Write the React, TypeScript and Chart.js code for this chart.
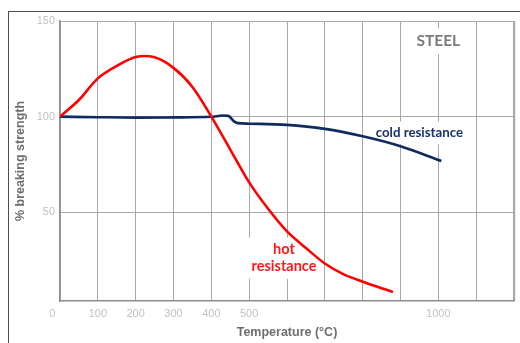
import React, { useEffect, useRef } from "react";
import { Chart, registerables } from "chart.js";

Chart.register(...registerables);

// Temperature (°C) and % of room-temperature breaking strength
const hotTemps = [0, 50, 100, 150, 200, 250, 300, 350, 400, 450, 500, 550, 600, 650, 700, 750, 800, 850, 880];
const hotStrength = [100, 108.7, 120, 126.5, 131.2, 131, 125.5, 115.5, 100, 82.8, 65.6, 51.8, 40, 31.3, 23.2, 17.5, 13.7, 10.3, 8.3];

const coldTemps = [0, 100, 200, 300, 400, 430, 445, 460, 470, 500, 600, 700, 800, 900, 1008];
const coldStrength = [100, 99.7, 99.5, 99.6, 99.9, 100.6, 100.4, 97.5, 96.6, 96.3, 95.7, 93.6, 89.7, 84.5, 76.8];

const xTickValues = [0, 100, 200, 300, 400, 500, 600, 700, 800, 900, 1000, 1100, 1200];
const xTickLabels = ["0", "100", "200", "300", "400", "500", "", "", "", "", "1000", "", ""];
const yTickValues = [50, 100, 150];

const TICK_FONT = { family: "'Liberation Sans', Arial, sans-serif", size: 11 };
const TITLE_FONT = { family: "'Liberation Sans', Arial, sans-serif", size: 12.5, weight: "bold" as const };
const GRID = "#a8a8a8";
const AXIS = "#8c8c8c";

// Text callouts placed in data space, painted on a white backing so gridlines break behind them.
const calloutPlugin = {
  id: "callouts",
  beforeDatasetsDraw(chart: any) {
    const { ctx, scales } = chart;
    const xs = scales.x;
    const ys = scales.y;
    const items = [
      { lines: ["STEEL"], x: 1000, y: 139.5, color: "#7a7a7a", size: 15.5, gap: 0 },
      { lines: ["cold resistance"], x: 950, y: 91.5, color: "#1b3170", size: 13.3, gap: 0 },
      { lines: ["hot", "resistance"], x: 592, y: 26, color: "#ff1a1a", size: 14.5, gap: 17 },
    ];
    ctx.save();
    for (const it of items) {
      const cx = xs.getPixelForValue(it.x);
      const cy = ys.getPixelForValue(it.y);
      ctx.font = `bold ${it.size}px Lato, 'Open Sans', sans-serif`;
      ctx.textAlign = "center";
      ctx.textBaseline = "middle";
      const widths = it.lines.map((l) => ctx.measureText(l).width);
      const w = Math.max(...widths);
      const n = it.lines.length;
      const blockH = (n - 1) * it.gap + it.size * 1.25;
      ctx.fillStyle = "#ffffff";
      ctx.fillRect(cx - w / 2 - 3, cy - blockH / 2 - 3, w + 6, blockH + 6);
      ctx.fillStyle = it.color;
      it.lines.forEach((l, i) => {
        const ly = cy + (i - (n - 1) / 2) * it.gap;
        ctx.fillText(l, cx, ly);
      });
    }
    ctx.restore();
  },
};

export default function App() {
  const canvasRef = useRef<HTMLCanvasElement | null>(null);

  useEffect(() => {
    if (!canvasRef.current) return;
    const chart = new Chart(canvasRef.current, {
      type: "line",
      data: {
        datasets: [
          {
            label: "hot resistance",
            data: hotTemps.map((t, i) => ({ x: t, y: hotStrength[i] })),
            borderColor: "#ff0000",
            borderWidth: 2.6,
            pointRadius: 0,
            tension: 0.3,
            fill: false,
          },
          {
            label: "cold resistance",
            data: coldTemps.map((t, i) => ({ x: t, y: coldStrength[i] })),
            borderColor: "#0f2a5e",
            borderWidth: 2.6,
            pointRadius: 0,
            cubicInterpolationMode: "monotone",
            fill: false,
          },
        ],
      },
      options: {
        animation: false,
        responsive: true,
        maintainAspectRatio: false,
        layout: { padding: { left: 0, top: 21, right: 4, bottom: 0 } },
        plugins: { legend: { display: false }, tooltip: { enabled: false } },
        scales: {
          x: {
            type: "linear",
            min: 0,
            max: 1200,
            afterBuildTicks: (s: any) => {
              s.ticks = xTickValues.map((v) => ({ value: v }));
            },
            afterFit: (s: any) => {
              s.height = 42;
            },
            ticks: {
              autoSkip: false,
              maxRotation: 0,
              padding: 6,
              color: "#c2c2c2",
              font: TICK_FONT,
              callback: (v: any) => {
                const i = xTickValues.indexOf(Number(v));
                const label = i >= 0 ? xTickLabels[i] : "";
                return label === "0" ? "0     " : label;
              },
            },
            grid: {
              color: GRID,
              drawTicks: false,
              lineWidth: (c: any) => (c.tick && c.tick.value === 1200 ? 2.2 : 1),
            },
            border: { color: AXIS, width: 1.5 },
            title: {
              display: true,
              text: "Temperature (°C)",
              color: "#6e6e6e",
              font: TITLE_FONT,
              padding: { top: 0, bottom: 3 },
            },
          },
          y: {
            min: 3.6,
            max: 150,
            afterBuildTicks: (s: any) => {
              s.ticks = yTickValues.map((v) => ({ value: v }));
            },
            afterFit: (s: any) => {
              s.width = 60;
            },
            ticks: { padding: 5, color: "#c2c2c2", font: TICK_FONT },
            grid: { color: GRID, drawTicks: false },
            border: { color: AXIS, width: 1.5 },
            title: {
              display: true,
              text: "% breaking strength",
              color: "#6e6e6e",
              font: TITLE_FONT,
              padding: { top: 13, bottom: 0 },
            },
          },
        },
      },
      plugins: [calloutPlugin],
    });
    return () => chart.destroy();
  }, []);

  return (
    <div style={{ position: "fixed", left: 0, top: 0, width: 520, height: 343, background: "#fff", overflow: "hidden" }}>
      <div
        style={{
          position: "absolute",
          left: 8,
          top: 11,
          width: 600,
          height: 400,
          borderTop: "1px solid #4d4d4d",
          borderLeft: "1px solid #4d4d4d",
        }}
      />
      <div style={{ position: "absolute", left: 0, top: 0, width: 520, height: 343 }}>
        <canvas ref={canvasRef} />
      </div>
    </div>
  );
}
